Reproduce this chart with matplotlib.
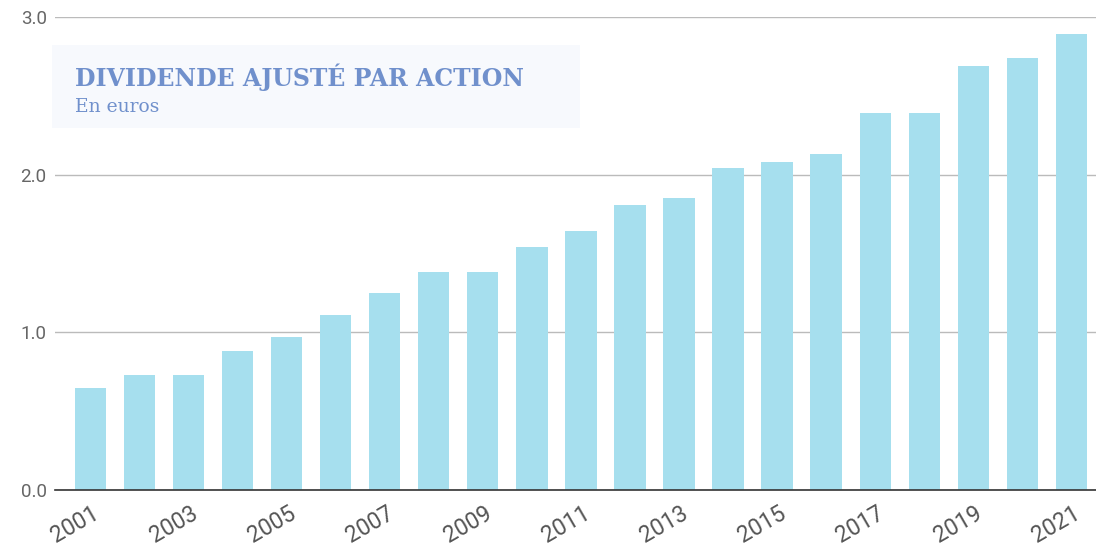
import matplotlib
matplotlib.use("Agg")
import matplotlib.pyplot as plt
from matplotlib.patches import Rectangle
from matplotlib.transforms import ScaledTranslation

years = list(range(2001, 2022))
dividends = [0.65, 0.73, 0.73, 0.88, 0.97, 1.11, 1.25, 1.38, 1.38, 1.54,
             1.64, 1.81, 1.85, 2.04, 2.08, 2.13, 2.39, 2.39, 2.69, 2.74, 2.89]
yticks = [0.0, 1.0, 2.0, 3.0]
title = "DIVIDENDE AJUSTÉ PAR ACTION"
subtitle = "En euros"

fig = plt.figure(figsize=(10.96, 5.49), dpi=100)
ax = fig.add_axes([55/1096, 1-490/549, 1-55/1096, (490-17)/549])

x = list(range(len(years)))
ax.bar(x, dividends, width=0.64, color="#a6dfee", zorder=2)
ax.set_xlim(-0.72, 20.5)
ax.set_ylim(0, 3.0)
ax.set_yticks(yticks)
ax.set_yticklabels([f"{v:.1f}" for v in yticks], fontfamily="Roboto", fontsize=13.5, color="#666666")
ax.set_xticks(x[::2])
ax.set_xticklabels([])
ax.tick_params(axis="both", length=0, pad=6)

# x labels drawn as rotated text, shifted left like the reference
off = ScaledTranslation(-15/100, -35/100, fig.dpi_scale_trans)
for xi, yr in zip(x[::2], years[::2]):
    ax.text(xi, 0, str(yr), transform=ax.get_xaxis_transform() + off,
            rotation=30, ha="center", va="center", fontfamily="Roboto",
            fontsize=16.5, color="#555555", clip_on=False)

ax.grid(axis="y", color="#bbbbbb", linewidth=1, zorder=1)
for s in ["top", "right", "left"]:
    ax.spines[s].set_visible(False)
ax.spines["bottom"].set_color("#333333")
ax.spines["bottom"].set_linewidth(1.2)
ax.spines["bottom"].set_zorder(3)

fig.patches.append(Rectangle((52/1096, 1-128/549), (580-52)/1096, (128-45)/549,
                             transform=fig.transFigure, facecolor="#f7f9fd",
                             edgecolor="none", zorder=0))
fig.text(75/1096, 1-86/549, title, fontfamily="DejaVu Serif", fontweight="bold",
         fontsize=17, color="#7090cc")
fig.text(75/1096, 1-112/549, subtitle, fontfamily="DejaVu Serif",
         fontsize=13.5, color="#7090cc")

fig.savefig("out.png", dpi=100)
